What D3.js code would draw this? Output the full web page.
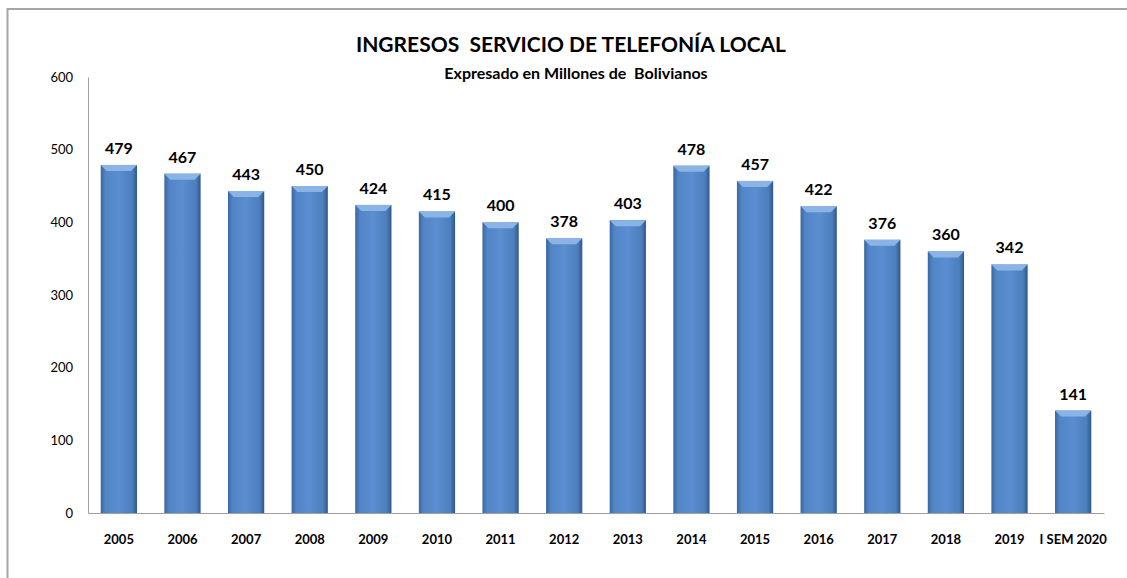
<!DOCTYPE html>
<html>
<head>
<meta charset="utf-8">
<script src="https://cdn.jsdelivr.net/npm/d3@7"></script>
<style>
  body { margin: 0; background: #fff; }
  svg { display: block; }
</style>
</head>
<body>
<div id="vis"></div>
<script>
const FRAME_WIDTH = 1127;
const FRAME_HEIGHT = 578;
const MARGINS = {left: 88, right: 23, top: 77, bottom: 65};

// data
const CATEGORIES = ["2005", "2006", "2007", "2008", "2009", "2010", "2011", "2012",
                    "2013", "2014", "2015", "2016", "2017", "2018", "2019", "I SEM 2020"];
const VALUES = [479, 467, 443, 450, 424, 415, 400, 378, 403, 478, 457, 422, 376, 360, 342, 141];
const Y_TICKS = [0, 100, 200, 300, 400, 500, 600];

const FONT = "Lato, 'Open Sans', sans-serif";

const data = CATEGORIES.map((c, i) => ({category: c, value: VALUES[i]}));

const svg = d3.select("#vis")
  .append("svg")
    .attr("width", FRAME_WIDTH)
    .attr("height", FRAME_HEIGHT);

// gradients for the bevelled bars
const defs = svg.append("defs");
const gBody = defs.append("linearGradient").attr("id", "barBody")
  .attr("x1", "0").attr("x2", "1").attr("y1", "0").attr("y2", "0");
gBody.append("stop").attr("offset", "0%").attr("stop-color", "#3a679e");
gBody.append("stop").attr("offset", "13%").attr("stop-color", "#5285c6");
gBody.append("stop").attr("offset", "50%").attr("stop-color", "#5a8ed0");
gBody.append("stop").attr("offset", "87%").attr("stop-color", "#4d7ebd");
gBody.append("stop").attr("offset", "100%").attr("stop-color", "#2f5889");

// outer frame
svg.append("rect")
  .attr("x", 7.5).attr("y", 9)
  .attr("width", FRAME_WIDTH + 20).attr("height", FRAME_HEIGHT + 20)
  .attr("fill", "none")
  .attr("stroke", "#a6a6a6")
  .attr("stroke-width", 2);

const X_SCALE = d3.scaleBand()
  .domain(CATEGORIES)
  .range([MARGINS.left, FRAME_WIDTH - MARGINS.right])
  .paddingInner(0.43)
  .paddingOuter(0.2);

const Y_SCALE = d3.scaleLinear()
  .domain([0, 600])
  .range([FRAME_HEIGHT - MARGINS.bottom, MARGINS.top]);

// y axis
const yAxis = svg.append("g")
  .attr("transform", "translate(" + MARGINS.left + ",0)")
  .call(d3.axisLeft(Y_SCALE).tickValues(Y_TICKS).tickSize(0).tickPadding(15));
yAxis.select(".domain").attr("stroke", "#a0a0a0");
yAxis.selectAll("text")
  .attr("font-family", FONT)
  .attr("font-size", "13px")
  .attr("fill", "#000");

// bars
const bw = X_SCALE.bandwidth();
const bars = svg.selectAll(".bar")
  .data(data)
  .enter()
  .append("g")
    .attr("class", "bar");

bars.append("rect")
  .attr("x", (d) => X_SCALE(d.category))
  .attr("y", (d) => Y_SCALE(d.value))
  .attr("width", bw)
  .attr("height", (d) => Y_SCALE(0) - Y_SCALE(d.value))
  .attr("fill", "url(#barBody)");

// top bevel
const bev = 6;
bars.append("polygon")
  .attr("points", (d) => {
    const x0 = X_SCALE(d.category), x1 = x0 + bw, y0 = Y_SCALE(d.value);
    return [[x0, y0], [x1, y0], [x1 - bev, y0 + bev], [x0 + bev, y0 + bev]]
      .map((p) => p.join(",")).join(" ");
  })
  .attr("fill", "#8ab4e6");

// value labels
svg.selectAll(".val")
  .data(data)
  .enter()
  .append("text")
    .attr("class", "val")
    .attr("x", (d) => X_SCALE(d.category) + bw / 2)
    .attr("y", (d) => Y_SCALE(d.value) - 11)
    .attr("text-anchor", "middle")
    .attr("font-family", FONT)
    .attr("font-weight", "bold")
    .attr("font-size", "16px")
    .attr("fill", "#000")
    .text((d) => d.value);

// x axis
const xAxis = svg.append("g")
  .attr("transform", "translate(0," + Y_SCALE(0) + ")")
  .call(d3.axisBottom(X_SCALE).tickSize(0).tickPadding(22));
xAxis.select(".domain").attr("stroke", "#a0a0a0");
xAxis.selectAll("text")
  .attr("font-family", FONT)
  .attr("font-weight", "bold")
  .attr("font-size", "13px")
  .attr("fill", "#000");

// titles
svg.append("text")
  .attr("x", 571).attr("y", 52)
  .attr("text-anchor", "middle")
  .attr("font-family", FONT)
  .attr("font-weight", "bold")
  .attr("font-size", "21px")
  .attr("fill", "#000")
  .attr("xml:space", "preserve")
  .text("INGRESOS  SERVICIO DE TELEFONÍA LOCAL");

svg.append("text")
  .attr("x", 576).attr("y", 79)
  .attr("text-anchor", "middle")
  .attr("font-family", FONT)
  .attr("font-weight", "bold")
  .attr("font-size", "16px")
  .attr("fill", "#000")
  .attr("xml:space", "preserve")
  .text("Expresado en Millones de  Bolivianos");
</script>
</body>
</html>
